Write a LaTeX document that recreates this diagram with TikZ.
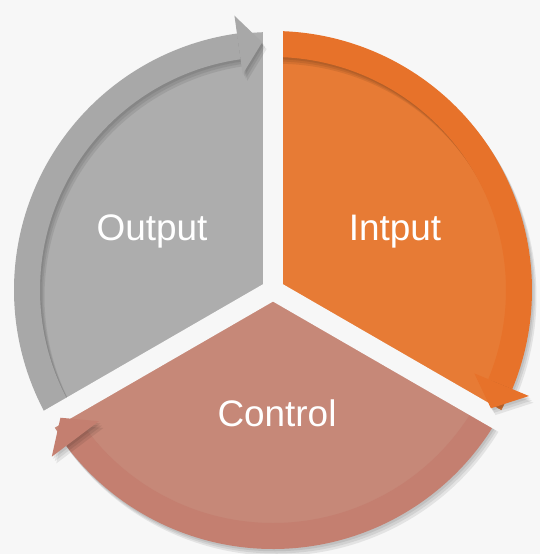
\documentclass[tikz,border=0pt]{standalone}
\usepackage{fontspec}
\setmainfont{Liberation Sans}
\usetikzlibrary{calc}

\definecolor{fond}{HTML}{F7F7F7}
\definecolor{gris}{HTML}{ADADAD}
\definecolor{grisfonce}{HTML}{A8A8A8}
\definecolor{orangeclair}{HTML}{E77B35}
\definecolor{orangefonce}{HTML}{E7722A}
\definecolor{rose}{HTML}{C68878}
\definecolor{rosefonce}{HTML}{C47F70}

\begin{document}
\begin{tikzpicture}[x=0.03cm, y=0.03cm,
    secteur/.style={fill=#1},
    bande/.style={fill=#1},
    ombre/.style={fill=black, opacity=0.08},
    coupure/.style={draw=fond, line width=0.6cm},
    titre/.style={text=white, font=\fontsize{31.5}{36}\selectfont, anchor=base}
]

% Fond
\useasboundingbox (-273,-264) rectangle (267,290);
\clip (-273,-264) rectangle (267,290);
\fill[fond] (-273,-264) rectangle (267,290);

% Secteurs
\fill[secteur=gris] (0,0) -- (210:258) arc[start angle=210, end angle=90, radius=258] -- cycle;
\fill[secteur=orangeclair] (0,0) -- (90:258) arc[start angle=90, end angle=-30, radius=258] -- cycle;
\fill[secteur=rose] (0,0) -- (-30:258) arc[start angle=-30, end angle=-150, radius=258] -- cycle;

% Bandes
\foreach \debut/\fin/\couleur in {210/98/grisfonce, 90/-22.5/orangefonce, -30/-143/rosefonce} {
    \foreach \d in {1.5,3,4.5} {
        \fill[ombre, shift={(\d,-1.5*\d)}] (\debut:233) arc[start angle=\debut, end angle=\fin, radius=233]
            -- (\fin:259) arc[start angle=\fin, end angle=\debut, radius=259] -- cycle;
    }
    \fill[bande=\couleur] (\debut:233) arc[start angle=\debut, end angle=\fin, radius=233]
        -- (\fin:259) arc[start angle=\fin, end angle=\debut, radius=259] -- cycle;
}

% Séparations
\foreach \ang in {90, 210, -30} {
    \draw[coupure] (0,0) -- (\ang:300);
}

% Pointes
\foreach \base/\bout/\couleur in {98/92.5/grisfonce, -22.5/-28.5/orangefonce, -143/-149/rosefonce} {
    \foreach \d in {1.5,3,4.5} {
        \fill[ombre, shift={(\d,-1.5*\d)}] (\base:218) -- (\base:277) -- (\bout:248) -- cycle;
    }
    \fill[bande=\couleur] (\base:218) -- (\base:277) -- (\bout:248) -- cycle;
}

% Textes
\node[titre] (output) at (-121,50) {Output};
\node[titre] (intput) at (122,50) {Intput};
\node[titre] (control) at (4,-136) {Control};

\end{tikzpicture}
\end{document}
